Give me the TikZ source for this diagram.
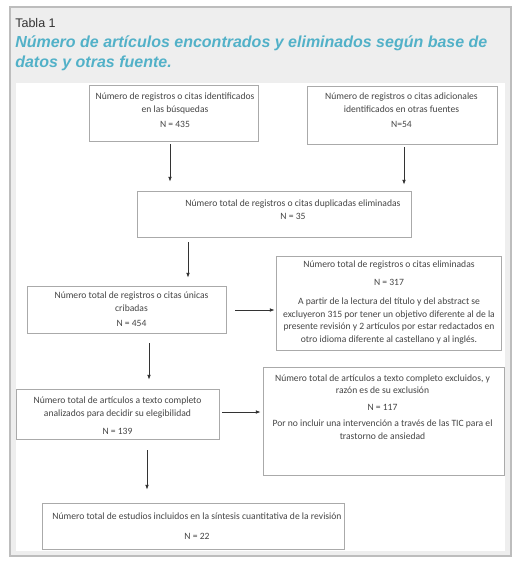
\documentclass[tikz,border=0pt]{standalone}
\usepackage{fontspec}
\setmainfont{Carlito}
\newfontfamily\arialf{Liberation Sans}
\usetikzlibrary{arrows.meta}
\definecolor{panelbg}{HTML}{EEEEEE}
\definecolor{panelline}{HTML}{BDBDBD}
\definecolor{boxc}{HTML}{AAAAAA}
\definecolor{arrowc}{HTML}{333333}
\definecolor{textc}{HTML}{454545}
\definecolor{titlec}{HTML}{52B1C8}
\begin{document}
\begin{tikzpicture}[x=0.75pt,y=-0.75pt,
  box/.style={draw=boxc, line width=0.6pt, fill=white, rectangle, inner sep=0pt},
  txt/.style={font=\fontsize{7.2}{9.5}\selectfont, text=textc, align=center, inner sep=0pt, anchor=base},
  arr/.style={draw=arrowc, line width=0.6pt, -{Latex[length=3.6pt,width=2.8pt]}}]
\useasboundingbox (0,0) rectangle (520,564);
\fill[white] (0,0) rectangle (520,564);
% panel
\draw[panelline, fill=panelbg, line width=0.8pt] (10,7) rectangle (511,556);
\fill[white] (16,83) rectangle (505,551);
\node[anchor=base west, inner sep=0pt, font=\arialf\fontsize{9.4}{11}\selectfont, text=black!80] (tabla) at (15,27) {Tabla 1};
\node[anchor=base west, inner sep=0pt, align=left, font=\arialf\bfseries\itshape\fontsize{12}{15}\selectfont, text=titlec] (titulo) at (15,67) {Número de artículos encontrados y eliminados según base de\\ datos y otras fuente.};
% boxes
\node[box, minimum width=169*0.75pt, minimum height=56*0.75pt] (b1) at (173.5,113) {};
\node[box, minimum width=190*0.75pt, minimum height=58*0.75pt] (b2) at (402,115) {};
\node[box, minimum width=274*0.75pt, minimum height=46*0.75pt] (b3) at (274,214) {};
\node[box, minimum width=199*0.75pt, minimum height=47*0.75pt] (b4) at (126.5,309.5) {};
\node[box, minimum width=225*0.75pt, minimum height=94*0.75pt] (b5) at (388.5,303) {};
\node[box, minimum width=203*0.75pt, minimum height=50*0.75pt] (b6) at (117.5,414) {};
\node[box, minimum width=241*0.75pt, minimum height=108*0.75pt] (b7) at (383.5,421) {};
\node[box, minimum width=302*0.75pt, minimum height=46*0.75pt] (b8) at (193,526) {};
% texts (anchor base = baseline of last line)
\node[txt] (t1) at (175,127.5) {Número de registros o citas identificados\\ en las búsquedas\\[1.75pt] N = 435};
\node[txt] (t2) at (401.5,127.5) {Número de registros o citas adicionales\\ identificados en otras fuentes\\[1.75pt] N=54};
\node[txt] (t3) at (293,219.5) {Número total de registros o citas duplicadas eliminadas\\ N = 35};
\node[txt] (t4) at (131.5,326.5) {Número total de registros o citas únicas\\ cribadas\\[1.75pt] N = 454};
\node[txt] (t5) at (389,342.5) {Número total de registros o citas eliminadas\\[4pt] N = 317\\[4.75pt] A partir de la lectura del título y del abstract se\\ excluyeron 315 por tener un objetivo diferente al de la\\ presente revisión y 2 artículos por estar redactados en\\ otro idioma diferente al castellano y al inglés.};
\node[txt] (t6) at (117.5,434.5) {Número total de artículos a texto completo\\ analizados para decidir su elegibilidad\\[4pt] N = 139};
\node[txt] (t7) at (382.5,439.5) {Número total de artículos a texto completo excluidos, y\\ razón es de su exclusión\\[3.25pt] N = 117\\[2.5pt] Por no incluir una intervención a través de las TIC para el\\ trastorno de ansiedad};
\node[txt] (t8) at (197,539) {Número total de estudios incluidos en la síntesis cuantitativa de la revisión\\[5.5pt] N = 22};
% connectors
\draw[arr, shorten <=2.25pt, shorten >=6.75pt] (b1.south -| 170,0) -- (b3.north -| 170,0);
\draw[arr, shorten <=2.25pt, shorten >=4.5pt] (b2.south -| 404,0) -- (b3.north -| 404,0);
\draw[arr, shorten <=3.75pt, shorten >=6pt] (b3.south -| 188,0) -- (b4.north -| 188,0);
\draw[arr, shorten <=7.5pt, shorten >=6.75pt] (b4.south -| 149,0) -- (b6.north -| 149,0);
\draw[arr, shorten <=8.25pt, shorten >=9.75pt] (b6.south -| 147,0) -- (b8.north -| 147,0);
\draw[arr, shorten <=6.75pt, shorten >=0.75pt] (b4.east |- 0,310) -- (b5.west |- 0,310);
\draw[arr, shorten <=2.25pt, shorten >=1.5pt] (b6.east |- 0,412) -- (b7.west |- 0,412);
\end{tikzpicture}
\end{document}
